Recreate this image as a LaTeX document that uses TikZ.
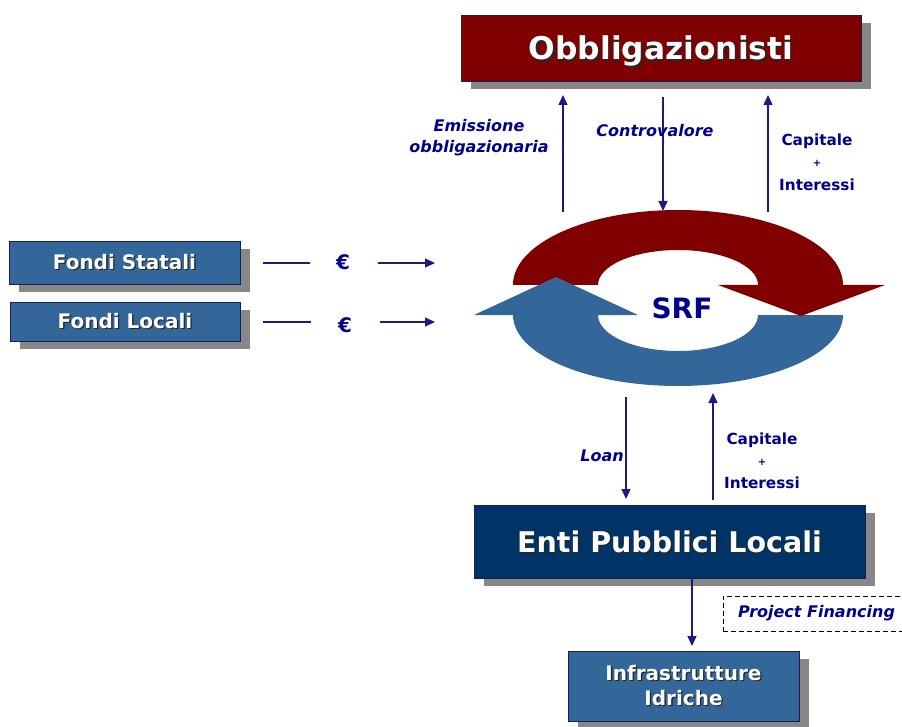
\documentclass[tikz,border=0pt]{standalone}
\usepackage{fontspec}
\setmainfont{DejaVu Sans}
\usetikzlibrary{arrows.meta,shadows}
\definecolor{srfred}{HTML}{800000}
\definecolor{srfblue}{HTML}{336699}
\definecolor{navybox}{HTML}{003366}
\definecolor{shgray}{HTML}{878787}
\definecolor{arrcol}{HTML}{1A1A80}
\definecolor{lblcol}{HTML}{00008C}
\definecolor{bordcol}{HTML}{1C1C5C}
\newcommand\shtext[1]{\leavevmode\rlap{\kern1.3pt\raisebox{-1.3pt}{\color{black!85}#1}}#1}
\begin{document}
\begin{tikzpicture}[x=1pt,y=1pt,
  box/.style={rectangle,draw=bordcol,line width=0.8pt,text=white,inner sep=0pt,align=center,
    drop shadow={shadow xshift=10pt,shadow yshift=-8pt,fill=shgray,opacity=1}},
  arr/.style={draw=arrcol,line width=1.4pt,-{Triangle[length=10pt,width=9pt]}},
  ln/.style={draw=arrcol,line width=1.2pt},
  lbl/.style={text=lblcol,font=\bfseries\itshape\fontsize{16}{21}\selectfont,align=center,inner sep=0pt},
  lblb/.style={text=lblcol,font=\bfseries\fontsize{15.3}{16}\selectfont,inner sep=0pt},
  plus/.style={text=lblcol,font=\bfseries\fontsize{10}{10}\selectfont,inner sep=0pt},
  euro/.style={text=lblcol,font=\bfseries\fontsize{20}{20}\selectfont,inner sep=0pt}]
\useasboundingbox (0,0) rectangle (902,-727);

% boxes
\node[box,fill=srfred,minimum width=400,minimum height=66,text depth=0pt,font=\bfseries\fontsize{31.3}{31.3}\selectfont] (obb) at (661,-48) {\shtext{Obbligazionisti}};
\node[box,fill=srfblue,minimum width=231,minimum height=43,font=\bfseries\fontsize{20}{20}\selectfont] (fs) at (124.5,-262.5) {\shtext{Fondi Statali}};
\node[box,fill=srfblue,minimum width=230,minimum height=39,font=\bfseries\fontsize{20}{20}\selectfont] (fl) at (125,-321.5) {\shtext{Fondi Locali}};
\node[box,fill=navybox,minimum width=391,minimum height=73,text depth=0pt,font=\bfseries\fontsize{28.5}{28.5}\selectfont] (enti) at (669.5,-541.5) {\shtext{Enti Pubblici Locali}};
\node[box,fill=srfblue,minimum width=231,minimum height=70,font=\bfseries\fontsize{20}{25}\selectfont] (infra) at (683.5,-686) {\shtext{Infrastrutture}\\\shtext{Idriche}};

% SRF cycle
\fill[srfred] (513,-285) arc[start angle=180,end angle=0,x radius=165,y radius=75] -- (758,-285)
  arc[start angle=0,end angle=180,x radius=80,y radius=35] -- cycle;
\fill[srfblue] (843,-315) arc[start angle=0,end angle=-180,x radius=165,y radius=71] -- (598,-315)
  arc[start angle=180,end angle=360,x radius=80,y radius=36] -- cycle;
\fill[srfblue] (474,-315) -- (638,-315) -- (556,-277) -- cycle;
\fill[srfred] (718,-285) -- (885,-285) -- (801,-316) -- cycle;
\node[text=lblcol,font=\bfseries\fontsize{28}{28}\selectfont,inner sep=0pt] (srf) at (682,-308) {SRF};

% coordinates for connectors
\coordinate (em0) at (563,-212); \coordinate (em1) at (563,-95);
\coordinate (cv0) at (663,-97);  \coordinate (cv1) at (663,-211);
\coordinate (ci0) at (768,-212); \coordinate (ci1) at (768,-95);
\coordinate (lo0) at (626,-397); \coordinate (lo1) at (626,-499);
\coordinate (cb0) at (713,-500); \coordinate (cb1) at (713,-393);
\coordinate (ei0) at (692,-579); \coordinate (ei1) at (692,-646);
\coordinate (fs0) at (263,-263); \coordinate (fs1) at (310,-263);
\coordinate (fs2) at (378,-263); \coordinate (fs3) at (435,-263);
\coordinate (fl0) at (263,-322); \coordinate (fl1) at (311,-322);
\coordinate (fl2) at (380,-322); \coordinate (fl3) at (435,-322);

\draw[arr] (em0) -- (em1);
\draw[arr] (cv0) -- (cv1);
\draw[arr] (ci0) -- (ci1);
\draw[arr] (lo0) -- (lo1);
\draw[arr] (cb0) -- (cb1);
\draw[arr] (ei0) -- (ei1);
\draw[ln] (fs0) -- (fs1);
\draw[arr,line width=1.2pt] (fs2) -- (fs3);
\draw[ln] (fl0) -- (fl1);
\draw[arr,line width=1.2pt] (fl2) -- (fl3);

% euro signs
\node[euro] (eu1) at (343,-262) {€};
\node[euro] (eu2) at (345,-325) {€};

% labels
\node[lbl] (lem) at (479,-138) {Emissione\\obbligazionaria};
\node[lbl] (lcv) at (655,-131) {Controvalore};
\node[lblb] (lc1) at (817,-141) {Capitale};
\node[plus] (lp1) at (817,-163) {+};
\node[lblb] (li1) at (817,-185) {Interessi};
\node[lbl] (llo) at (602,-456) {Loan};
\node[lblb] (lc2) at (762,-440) {Capitale};
\node[plus] (lp2) at (762,-462) {+};
\node[lblb] (li2) at (762,-483) {Interessi};

% project financing
\node[draw=black,dash pattern=on 5pt off 3pt,line width=0.8pt,minimum width=187,minimum height=35,inner sep=0pt,
  text=lblcol,font=\bfseries\itshape\fontsize{16}{16}\selectfont] (pf) at (816.5,-613.5) {Project Financing};
\end{tikzpicture}
\end{document}
